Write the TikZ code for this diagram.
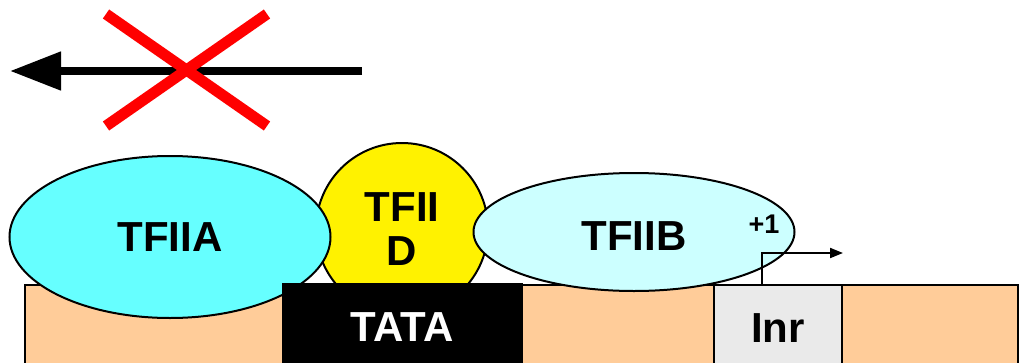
\documentclass[tikz,border=0pt]{standalone}
\usepackage{fontspec}
\setmainfont{Liberation Sans}
\usetikzlibrary{shapes.geometric,arrows.meta}
\definecolor{peach}{HTML}{FFCC99}
\definecolor{cyanA}{HTML}{66FFFF}
\definecolor{cyanB}{HTML}{CCFFFF}
\definecolor{inrgray}{HTML}{EAEAEA}
\tikzset{
  lbl/.style={font=\fontsize{42}{46}\selectfont\bfseries},
  blob/.style={ellipse, draw=black, line width=2pt, inner sep=0pt, outer sep=0pt},
  seg/.style={draw=black, line width=2.5pt, inner sep=0pt, outer sep=0pt, anchor=north west},
}
\begin{document}
\begin{tikzpicture}[x=1pt,y=-1pt]
\useasboundingbox (0,0) rectangle (1021,362);
% DNA strip
\node[seg, fill=peach, minimum width=993pt, minimum height=90pt] (strip) at (25,285) {};
\node[seg, fill=inrgray, minimum width=128pt, minimum height=90pt] (inrbox) at (714,285) {};
\node[lbl, anchor=center] (inr) at (778,328) {Inr};
% TFIID
\node[blob, circle, fill=yellow, minimum size=172pt] (tfiid) at (402,229) {};
\node[lbl, align=center, anchor=center] (tfiidt) at (402,229) {TFII\\[-2pt]D};
% TFIIA
\node[blob, fill=cyanA, minimum width=321pt, minimum height=162pt] (tfiia) at (170,237) {};
\node[lbl] (tfiiat) at (170,237) {TFIIA};
% TFIIB
\node[blob, fill=cyanB, minimum width=321pt, minimum height=118pt] (tfiib) at (634,232) {};
\node[lbl] (tfiibt) at (634,236) {TFIIB};
% TATA
\node[seg, fill=black, draw=none, minimum width=241pt, minimum height=92pt] (tata) at (282,283) {};
\node[lbl, text=white] (tatat) at (402,327) {TATA};
% +1 and start arrow
\node[font=\fontsize{27}{30}\selectfont\bfseries] (plus) at (764,224) {+1};
\coordinate (tss) at (762,285);
\coordinate (tssend) at (843,253);
\draw[line width=2pt, -{Triangle[length=13pt,width=10pt]}] (tss) |- (tssend);
% crossed-out arrow
\coordinate (ar1) at (362,71);
\coordinate (ar2) at (10,71);
\draw[line width=8pt, -{Triangle[length=51pt,width=37pt]}] (ar1) -- (ar2);
\coordinate (x1) at (106,14);
\coordinate (x2) at (267,126);
\coordinate (x3) at (267,14);
\coordinate (x4) at (106,126);
\draw[red, line width=11pt] (x1) -- (x2);
\draw[red, line width=11pt] (x3) -- (x4);
\end{tikzpicture}
\end{document}
